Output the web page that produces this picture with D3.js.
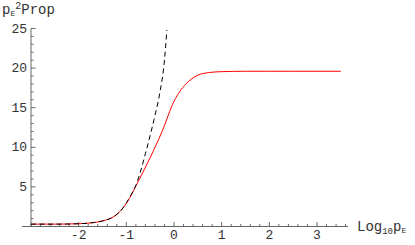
<!DOCTYPE html>
<html>
<head>
<meta charset="utf-8">
<script src="https://cdn.jsdelivr.net/npm/d3@7"></script>
<style>
  body { margin: 0; background: #fff; }
</style>
</head>
<body>
<div id="chart"></div>
<script>
const width = 415;
const height = 245;

// full propagator (red) and its small-p approximation (dashed)
const logP = [-3, -2.5, -2, -1.75, -1.5, -1.25, -1, -0.75, -0.5, -0.25, 0, 0.25, 0.5, 0.75, 1, 1.5, 2, 2.5, 3, 3.5];
const propFull = [0.3, 0.3, 0.35, 0.45, 0.7, 1.3, 2.9, 5.7, 8.7, 12.0, 15.8, 18.0, 19.1, 19.45, 19.55, 19.6, 19.6, 19.6, 19.6, 19.6];
const logPApprox = [-3, -2.5, -2, -1.75, -1.5, -1.25, -1.1, -1, -0.9, -0.8, -0.7, -0.6, -0.5, -0.4, -0.3, -0.2, -0.15];
const propApprox = [0.3, 0.3, 0.35, 0.45, 0.7, 1.3, 2.1, 3.0, 4.0, 5.2, 7.0, 9.2, 11.5, 14.0, 16.8, 21.0, 24.8];

const xTicks = [-2, -1, 0, 1, 2, 3];
const yTicks = [5, 10, 15, 20, 25];

const svg = d3
  .select('#chart')
  .append('svg')
  .attr('width', width)
  .attr('height', height)
  .attr('font-family', '"Liberation Mono", "Courier New", "DejaVu Sans Mono", monospace');

// scales
const xScale = d3.scaleLinear().domain([-3, 3]).range([31, 317]);
const yScale = d3.scaleLinear().domain([0, 25]).range([226.5, 28.5]);

const axisColor = '#666';
const textColor = '#333';

// x axis line (runs a little past the y axis on the left)
svg.append('line')
  .attr('x1', xScale(-3.19)).attr('x2', xScale(3.65))
  .attr('y1', yScale(0)).attr('y2', yScale(0))
  .attr('stroke', axisColor).attr('stroke-width', 1);

// y axis line
svg.append('line')
  .attr('x1', xScale(-3)).attr('x2', xScale(-3))
  .attr('y1', yScale(0)).attr('y2', yScale(25))
  .attr('stroke', axisColor).attr('stroke-width', 1);

// x ticks, major and minor
const xMinor = d3.range(-3.0, 3.61, 0.2).map(v => Math.round(v * 10) / 10);
svg.selectAll('.xminor')
  .data(xMinor.filter(v => !xTicks.includes(v)))
  .enter().append('line')
  .attr('x1', d => xScale(d)).attr('x2', d => xScale(d))
  .attr('y1', yScale(0)).attr('y2', yScale(0) - 2.5)
  .attr('stroke', axisColor);

svg.selectAll('.xmajor')
  .data(xTicks)
  .enter().append('line')
  .attr('x1', d => xScale(d)).attr('x2', d => xScale(d))
  .attr('y1', yScale(0)).attr('y2', yScale(0) - 4.5)
  .attr('stroke', axisColor);

svg.selectAll('.xlabel')
  .data(xTicks)
  .enter().append('text')
  .attr('x', d => xScale(d))
  .attr('y', 239)
  .attr('text-anchor', 'middle')
  .attr('font-size', 13)
  .attr('fill', textColor)
  .text(d => d < 0 ? '-' + Math.abs(d) : d);

// y ticks
const yMinor = d3.range(1, 26, 1).filter(v => !yTicks.includes(v));
svg.selectAll('.yminor')
  .data(yMinor)
  .enter().append('line')
  .attr('x1', xScale(-3)).attr('x2', xScale(-3) + 2.5)
  .attr('y1', d => yScale(d)).attr('y2', d => yScale(d))
  .attr('stroke', axisColor);

svg.selectAll('.ymajor')
  .data(yTicks)
  .enter().append('line')
  .attr('x1', xScale(-3)).attr('x2', xScale(-3) + 4.5)
  .attr('y1', d => yScale(d)).attr('y2', d => yScale(d))
  .attr('stroke', axisColor);

svg.selectAll('.ylabel')
  .data(yTicks)
  .enter().append('text')
  .attr('x', 27)
  .attr('y', d => yScale(d) + 4)
  .attr('text-anchor', 'end')
  .attr('font-size', 13)
  .attr('fill', textColor)
  .text(d => d);

// axis titles
const yTitle = svg.append('text').attr('x', 2).attr('y', 14).attr('font-size', 14).attr('fill', textColor);
yTitle.append('tspan').text('p');
yTitle.append('tspan').attr('font-size', 8).attr('dy', 2).text('E');
yTitle.append('tspan').attr('font-size', 10).attr('dy', -7).text('2');
yTitle.append('tspan').attr('dy', 5).text('Prop');

const xTitle = svg.append('text').attr('x', 357).attr('y', 231).attr('font-size', 14).attr('fill', textColor);
xTitle.append('tspan').text('Log');
xTitle.append('tspan').attr('font-size', 9).attr('dy', 3).text('10');
xTitle.append('tspan').attr('dy', -3).text('p');
xTitle.append('tspan').attr('font-size', 8).attr('dy', 2).text('E');

// curves
const line = d3.line()
  .x(d => xScale(d[0]))
  .y(d => yScale(d[1]))
  .curve(d3.curveMonotoneX);

svg.append('path')
  .datum(logP.map((v, i) => [v, propFull[i]]))
  .attr('d', line)
  .attr('fill', 'none')
  .attr('stroke', '#ff0000')
  .attr('stroke-width', 1);

svg.append('path')
  .datum(logPApprox.map((v, i) => [v, propApprox[i]]))
  .attr('d', line)
  .attr('fill', 'none')
  .attr('stroke', '#000')
  .attr('stroke-width', 1)
  .attr('stroke-dasharray', '5,3.5');
</script>
</body>
</html>
